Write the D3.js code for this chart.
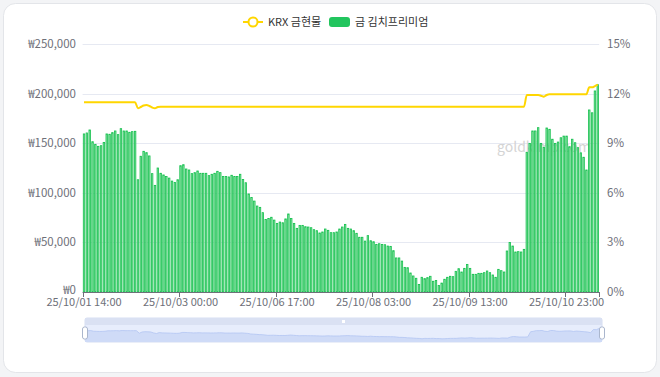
<!DOCTYPE html>
<html>
<head>
<meta charset="utf-8">
<script src="https://cdn.jsdelivr.net/npm/d3@7"></script>
<style>
  body { margin: 0; background: #f3f4f6; font-family: "Noto Sans CJK KR", "Noto Sans", sans-serif; }
  svg { display: block; }
</style>
</head>
<body>
<script>
// x tick labels (every 34th hourly category)
var tickLabels = ["25/10/01 14:00", "25/10/03 00:00", "25/10/06 17:00", "25/10/08 03:00", "25/10/09 13:00", "25/10/10 23:00"];
var tickStep = 34;

// gold kimchi premium, %
var premium = [
  9.56, 9.62, 9.80, 9.09, 8.93, 8.81, 8.85, 9.05, 9.56, 9.54,
  9.64, 9.74, 9.52, 9.88, 9.74, 9.74, 9.66, 9.70, 9.72, 6.79,
  8.21, 8.51, 8.43, 8.23, 7.16, 6.45, 7.50, 7.18, 7.08, 6.98,
  6.89, 6.71, 6.63, 6.79, 7.64, 7.70, 7.44, 7.38, 7.16, 7.22,
  7.32, 7.18, 7.18, 7.18, 7.04, 7.12, 7.18, 7.30, 7.22, 6.98,
  6.98, 6.96, 7.06, 6.98, 6.98, 7.12, 6.81, 6.61, 5.93, 5.71,
  5.50, 5.20, 5.12, 4.80, 4.39, 4.45, 4.52, 4.35, 4.15, 4.23,
  4.19, 4.42, 4.72, 4.44, 4.15, 3.85, 4.03, 4.03, 3.95, 3.93,
  3.89, 3.77, 3.71, 3.57, 3.63, 3.81, 3.73, 3.59, 3.59, 3.63,
  3.81, 3.93, 4.09, 3.85, 3.81, 3.71, 3.55, 3.31, 3.31, 3.08,
  3.41, 3.10, 3.04, 2.88, 2.92, 2.88, 2.86, 2.78, 2.76, 2.50,
  2.06, 2.06, 1.87, 1.49, 1.47, 1.15, 0.97, 0.83, 0.46, 0.89,
  0.81, 0.87, 0.95, 0.65, 0.69, 0.40, 0.54, 0.77, 0.89, 0.95,
  0.93, 1.25, 1.41, 1.21, 1.43, 1.67, 1.43, 1.07, 1.07, 1.13,
  1.13, 1.17, 1.27, 1.17, 1.03, 0.89, 1.37, 1.29, 1.21, 2.48,
  3.00, 2.78, 2.42, 2.44, 2.42, 2.58, 8.45, 8.99, 9.74, 9.74,
  9.94, 8.99, 8.75, 9.92, 9.84, 9.24, 8.99, 9.07, 9.33, 9.43,
  9.43, 8.79, 9.24, 9.03, 8.73, 8.42, 8.15, 7.38, 11.01, 10.84,
  12.16, 12.54
];

// KRX spot gold, won
var krx = [
  191200, 191200, 191200, 191200, 191200, 191200, 191200, 191200, 191200, 191200,
  191200, 191200, 191200, 191200, 191200, 191200, 191200, 191200, 191200, 185200,
  186500, 188000, 188500, 187500, 186000, 185200, 186500, 186800, 186800, 186800,
  186800, 186800, 186800, 186800, 186800, 186800, 186800, 186800, 186800, 186800,
  186800, 186800, 186800, 186800, 186800, 186800, 186800, 186800, 186800, 186800,
  186800, 186800, 186800, 186800, 186800, 186800, 186800, 186800, 186800, 186800,
  186800, 186800, 186800, 186800, 186800, 186800, 186800, 186800, 186800, 186800,
  186800, 186800, 186800, 186800, 186800, 186800, 186800, 186800, 186800, 186800,
  186800, 186800, 186800, 186800, 186800, 186800, 186800, 186800, 186800, 186800,
  186800, 186800, 186800, 186800, 186800, 186800, 186800, 186800, 186800, 186800,
  186800, 186800, 186800, 186800, 186800, 186800, 186800, 186800, 186800, 186800,
  186800, 186800, 186800, 186800, 186800, 186800, 186800, 186800, 186800, 186800,
  186800, 186800, 186800, 186800, 186800, 186800, 186800, 186800, 186800, 186800,
  186800, 186800, 186800, 186800, 186800, 186800, 186800, 186800, 186800, 186800,
  186800, 186800, 186800, 186800, 186800, 186800, 186800, 186800, 186800, 186800,
  186800, 186800, 186800, 186800, 186800, 186800, 198600, 198600, 198600, 198600,
  198600, 197900, 196900, 198600, 199300, 199300, 199300, 199300, 199300, 199300,
  199300, 199300, 199300, 199300, 199300, 199300, 199300, 199300, 206300, 206300,
  207600, 209000
];

var priceTicks = [0, 50000, 100000, 150000, 200000, 250000];
var pctTicks = [0, 3, 6, 9, 12, 15];

var width = 660, height = 377;
var plotL = 82.6, plotR = 599.2, plotT = 44, plotB = 292;
var greenLine = "#12c04c", greenFill = "#8ee0a6", gold = "#ffd600";
var labelColor = "#6e7079", gridColor = "#e6e9f2";

var svg = d3.select("body").append("svg")
  .attr("width", width)
  .attr("height", height);

// card
svg.append("rect")
  .attr("x", 3.5).attr("y", 3.5)
  .attr("width", 653).attr("height", 369)
  .attr("rx", 12)
  .attr("fill", "#fff")
  .attr("stroke", "#e3e5e9");

var idx = d3.range(premium.length);

var x = d3.scaleBand()
  .domain(idx)
  .range([plotL, plotR])
  .paddingInner(0.2)
  .paddingOuter(0.1);

var yPrice = d3.scaleLinear().domain([0, 250000]).range([plotB, plotT]);
var yPct = d3.scaleLinear().domain([0, 15]).range([plotB, plotT]);

// grid
svg.append("g").selectAll("line")
  .data(priceTicks.slice(1))
  .enter().append("line")
  .attr("x1", plotL).attr("x2", plotR)
  .attr("y1", function(d) { return Math.round(yPrice(d)) + 0.5; })
  .attr("y2", function(d) { return Math.round(yPrice(d)) + 0.5; })
  .attr("stroke", gridColor);

// left labels
svg.append("g").selectAll("text")
  .data(priceTicks)
  .enter().append("text")
  .attr("x", 76)
  .attr("y", function(d) { return yPrice(d) - (d === 0 ? 2 : 0); })
  .attr("dy", "0.35em")
  .attr("text-anchor", "end")
  .attr("font-size", 11.5)
  .attr("fill", labelColor)
  .text(function(d) { return "₩" + d3.format(",")(d); });

// right labels
svg.append("g").selectAll("text")
  .data(pctTicks)
  .enter().append("text")
  .attr("x", 607)
  .attr("y", function(d) { return yPct(d); })
  .attr("dy", "0.35em")
  .attr("font-size", 11.5)
  .attr("fill", labelColor)
  .text(function(d) { return d + "%"; });

// watermark
svg.append("text")
  .attr("x", 497).attr("y", 152)
  .attr("font-size", 14)
  .attr("fill", "#d4d4d4")
  .text("goldkimp.com");

// bars
svg.append("g").selectAll("rect")
  .data(idx)
  .enter().append("rect")
  .attr("x", function(i) { return x(i) + 0.4; })
  .attr("width", x.bandwidth() - 0.8)
  .attr("y", function(i) { return yPct(premium[i]); })
  .attr("height", function(i) { return plotB - yPct(premium[i]); })
  .attr("fill", greenFill)
  .attr("stroke", greenLine)
  .attr("stroke-width", 0.8);

// x axis
var step = (plotR - plotL) / premium.length;
svg.append("line")
  .attr("x1", plotL).attr("x2", plotR)
  .attr("y1", plotB + 0.5).attr("y2", plotB + 0.5)
  .attr("stroke", labelColor);

var tickIdx = d3.range(0, premium.length + 1, tickStep).concat([premium.length]);
svg.append("g").selectAll("line")
  .data(tickIdx)
  .enter().append("line")
  .attr("x1", function(i) { return Math.round(plotL + i * step) + 0.5; })
  .attr("x2", function(i) { return Math.round(plotL + i * step) + 0.5; })
  .attr("y1", plotB).attr("y2", plotB + 5)
  .attr("stroke", labelColor);

svg.append("g").selectAll("text")
  .data(tickLabels)
  .enter().append("text")
  .attr("x", function(d, i) { return x(i * tickStep) + x.bandwidth() / 2; })
  .attr("y", 306)
  .attr("text-anchor", "middle")
  .attr("font-size", 11)
  .attr("fill", labelColor)
  .text(function(d) { return d; });

// KRX line
var line = d3.line()
  .x(function(i) { return x(i) + x.bandwidth() / 2; })
  .y(function(i) { return yPrice(krx[i]); })
  .curve(d3.curveMonotoneX);

svg.append("path")
  .attr("d", line(idx))
  .attr("fill", "none")
  .attr("stroke", gold)
  .attr("stroke-width", 2);

// legend
var lg = svg.append("g");
lg.append("line")
  .attr("x1", 243).attr("x2", 263)
  .attr("y1", 22).attr("y2", 22)
  .attr("stroke", gold).attr("stroke-width", 2);
lg.append("circle")
  .attr("cx", 253).attr("cy", 22).attr("r", 4.5)
  .attr("fill", "#fff").attr("stroke", gold).attr("stroke-width", 2);
lg.append("text")
  .attr("x", 268).attr("y", 26)
  .attr("font-size", 11)
  .attr("fill", "#333")
  .text("KRX 금현물");
lg.append("rect")
  .attr("x", 329).attr("y", 17)
  .attr("width", 21).attr("height", 10).attr("rx", 3)
  .attr("fill", "#22c55e");
lg.append("text")
  .attr("x", 355).attr("y", 26)
  .attr("font-size", 11)
  .attr("fill", "#333")
  .text("금 김치프리미엄");

// data zoom slider
var sx0 = 85, sx1 = 602, sy0 = 318, sy1 = 342, barH = 7;
var slider = svg.append("g");
slider.append("rect")
  .attr("x", sx0).attr("y", sy0)
  .attr("width", sx1 - sx0).attr("height", sy1 - sy0)
  .attr("rx", 2)
  .attr("fill", "#e7edfc")
  .attr("stroke", "#d6def2");
slider.append("rect")
  .attr("x", sx0).attr("y", sy0)
  .attr("width", sx1 - sx0).attr("height", barH)
  .attr("fill", "#dae1f3");
slider.append("rect")
  .attr("x", (sx0 + sx1) / 2 - 1.5).attr("y", sy0 + 2)
  .attr("width", 3).attr("height", 3)
  .attr("fill", "#fff");

var ext = d3.extent(premium);
var pad = (ext[1] - ext[0]) * 0.3;
var sX = d3.scaleLinear().domain([0, premium.length - 1]).range([sx0, sx1]);
var sY = d3.scaleLinear().domain([ext[0] - pad, ext[1] + pad]).range([sy1, sy0 + barH]);

var area = d3.area()
  .x(function(i) { return sX(i); })
  .y0(sy1)
  .y1(function(i) { return sY(premium[i]); });
slider.append("path")
  .attr("d", area(idx))
  .attr("fill", "#cfdbf7");
slider.append("path")
  .attr("d", d3.line().x(function(i) { return sX(i); }).y(function(i) { return sY(premium[i]); })(idx))
  .attr("fill", "none")
  .attr("stroke", "#b3c5f2")
  .attr("stroke-width", 0.8);

[sx0, sx1].forEach(function(hx) {
  slider.append("rect")
    .attr("x", hx - 2.5).attr("y", sy0 + 9)
    .attr("width", 5).attr("height", 12).attr("rx", 2)
    .attr("fill", "#fff")
    .attr("stroke", "#aab6cd");
});
</script>
</body>
</html>
